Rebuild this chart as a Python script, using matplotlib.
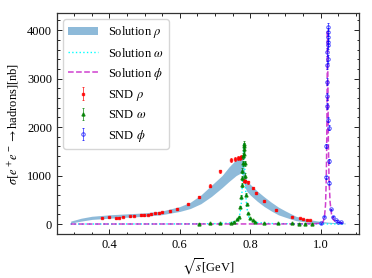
import matplotlib.pyplot as plt
from matplotlib.ticker import AutoMinorLocator

# SND rho data
rho_x = [0.379, 0.398, 0.419, 0.427, 0.440, 0.460, 0.469, 0.490, 0.498, 0.510, 0.519, 0.531,
         0.540, 0.549, 0.571, 0.592, 0.623, 0.654, 0.685, 0.715, 0.746, 0.757, 0.764, 0.770,
         0.775, 0.781, 0.786, 0.793, 0.807, 0.817, 0.838, 0.874, 0.918, 0.941, 0.950, 0.960, 0.971]
rho_y = [129, 136, 122, 129, 150, 156, 170, 184, 184, 190, 204, 218,
         231, 238, 265, 310, 415, 558, 789, 1088, 1330, 1340, 1355, 1365,
         1375, 898, 884, 864, 745, 646, 469, 286, 150, 116, 102, 88, 80]
rho_err = [12, 12, 11, 11, 12, 12, 13, 13, 13, 13, 14, 14,
           14, 14, 15, 16, 18, 22, 28, 35, 40, 40, 40, 40,
           40, 30, 30, 30, 26, 24, 18, 14, 10, 9, 9, 8, 8]

# SND omega data
om_x = [0.655, 0.685, 0.715, 0.746, 0.755, 0.762, 0.767, 0.771, 0.774, 0.776, 0.7775, 0.778,
        0.779, 0.780, 0.781, 0.7815, 0.782, 0.783, 0.784, 0.785, 0.787, 0.790, 0.795, 0.800,
        0.807, 0.814, 0.838, 0.879, 0.919, 0.940, 0.955, 0.975]
om_y = [10, 12, 15, 20, 47, 95, 150, 350, 560, 800, 950, 1100,
        1250, 1400, 1550, 1650, 1600, 1450, 1250, 1000, 600, 420, 220, 120,
        80, 40, 25, 14, 12, 10, 10, 8]
om_err = [5, 5, 5, 6, 8, 10, 12, 20, 30, 40, 45, 50,
          55, 60, 65, 70, 70, 60, 55, 45, 30, 22, 14, 10,
          8, 6, 5, 5, 5, 5, 5, 5]

# SND phi data
phi_x = [1.000, 1.011, 1.015, 1.0165, 1.0175, 1.018, 1.0185, 1.019, 1.0195, 1.0198, 1.020, 1.0203,
         1.0206, 1.021, 1.0215, 1.022, 1.0225, 1.023, 1.024, 1.029, 1.035, 1.043, 1.049, 1.059]
phi_y = [15, 150, 966, 1612, 2429, 2633, 2940, 3280, 3550, 3690, 3760, 3860,
         3960, 4061, 3400, 2157, 1986, 1306, 851, 300, 150, 82, 47, 35]
phi_err = [5, 10, 30, 45, 60, 65, 70, 75, 80, 80, 80, 85,
           85, 85, 80, 60, 55, 40, 30, 12, 8, 6, 5, 5]

# Solution rho band
band_x = [0.29, 0.32, 0.35, 0.40, 0.45, 0.50, 0.55, 0.60, 0.63, 0.66, 0.69, 0.72, 0.74, 0.76,
          0.770, 0.776, 0.780, 0.785, 0.79, 0.80, 0.82, 0.84, 0.86, 0.88, 0.90, 0.93, 0.96,
          0.99, 1.02, 1.05, 1.07]
band_hi = [60, 120, 160, 190, 210, 230, 270, 360, 450, 600, 800, 1000, 1180, 1330,
           1400, 1420, 1300, 1000, 900, 820, 680, 560, 450, 350, 270, 160, 100,
           65, 40, 25, 20]
band_lo = [20, 60, 95, 120, 140, 160, 195, 260, 320, 420, 570, 750, 880, 1000,
           1040, 1060, 950, 760, 680, 600, 470, 360, 270, 190, 140, 70, 40,
           25, 15, 8, 5]

# Solution omega
som_x = [0.29, 0.60, 0.70, 0.74, 0.76, 0.765, 0.770, 0.774, 0.776, 0.778, 0.780, 0.782,
         0.784, 0.786, 0.788, 0.790, 0.795, 0.80, 0.82, 0.86, 0.95, 1.07]
som_y = [0, 2, 8, 20, 59, 97, 185, 360, 550, 870, 1300, 1650,
         1300, 870, 550, 360, 160, 90, 30, 10, 3, 1]

# Solution phi
sphi_x = [0.29, 0.90, 0.98, 1.000, 1.005, 1.008, 1.011, 1.014, 1.016, 1.017, 1.018, 1.019,
          1.0195, 1.020, 1.021, 1.022, 1.024, 1.027, 1.031, 1.037, 1.045, 1.055, 1.07]
sphi_y = [0, 2, 5, 15, 30, 60, 150, 400, 900, 1400, 2200, 3400,
          4000, 3700, 2700, 1700, 900, 450, 200, 80, 40, 25, 15]

plt.rcParams['font.family'] = ['Liberation Serif', 'DejaVu Serif']
plt.rcParams['mathtext.fontset'] = 'stix'
plt.rcParams['font.size'] = 9

fig = plt.figure(figsize=(3.72, 2.78), dpi=100)
ax = fig.add_axes([0.153, 0.158, 0.812, 0.795])

ax.fill_between(band_x, band_lo, band_hi, color='tab:blue', alpha=0.5, lw=0, label=r'Solution $\rho$')
ax.plot(som_x, som_y, color='cyan', ls=':', lw=1.0, label=r'Solution $\omega$')
ax.plot(sphi_x, sphi_y, color='m', ls='--', lw=1.1, alpha=0.75, label=r'Solution $\phi$')

ax.errorbar(rho_x, rho_y, yerr=rho_err, fmt='s', ms=2, color='red', ecolor='red',
            elinewidth=0.6, capsize=1, capthick=0.6, alpha=0.8, label=r'SND $\rho$')
ax.errorbar(om_x, om_y, yerr=om_err, fmt='^', ms=2.2, color='green', ecolor='green',
            elinewidth=0.6, capsize=1, capthick=0.6, alpha=0.8, label=r'SND $\omega$')
ax.errorbar(phi_x, phi_y, yerr=phi_err, fmt='o', ms=2.5, mfc='none', mew=0.7, color='blue',
            ecolor='blue', elinewidth=0.6, capsize=1, capthick=0.6, alpha=0.7, label=r'SND $\phi$')

ax.set_xlabel(r'$\sqrt{s}$[GeV]')
ax.set_ylabel(r'$\sigma[e^+e^-\to$hadrons][nb]')

ax.xaxis.set_minor_locator(AutoMinorLocator(4))
ax.yaxis.set_minor_locator(AutoMinorLocator(5))
ax.tick_params(which='both', direction='in', top=True, right=True, width=0.6)
ax.tick_params(which='major', length=3.5)
ax.tick_params(which='minor', length=1.8)
for s in ax.spines.values():
    s.set_linewidth(0.9)
    s.set_color('#333333')

ax.legend(loc='upper left', fontsize=9, handlelength=2.4)

fig.savefig('out.png', dpi=100)
